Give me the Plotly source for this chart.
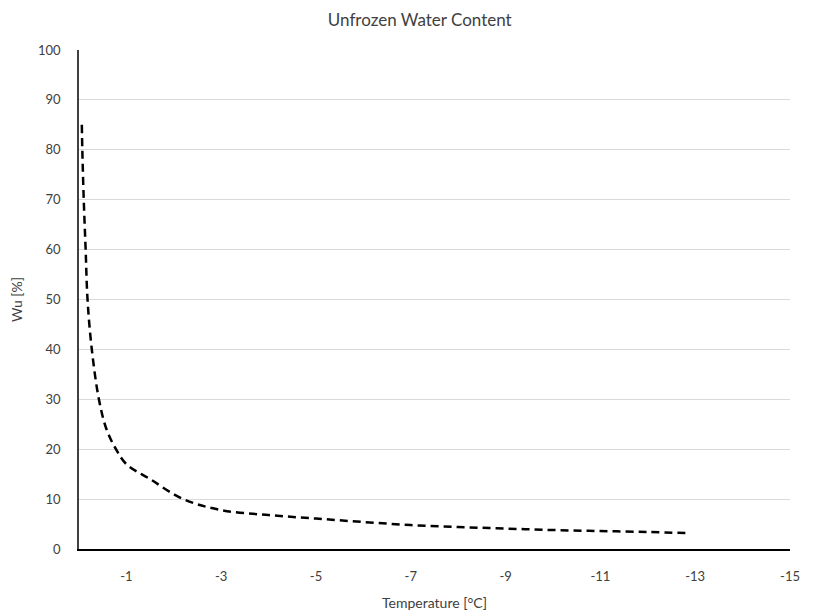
import plotly.graph_objects as go

temperature = [-0.06, -0.07, -0.1, -0.14, -0.18, -0.27, -0.42, -0.58, -0.78, -1.0,
               -1.5, -2.2, -3, -4, -5, -6, -7, -8, -9, -10, -11, -12, -12.85]
wu = [85, 80, 70, 60, 50, 40, 30, 24, 20, 17,
      14, 10, 7.8, 6.8, 6.1, 5.4, 4.8, 4.4, 4.1, 3.8, 3.6, 3.4, 3.2]

x_ticks = [-1, -3, -5, -7, -9, -11, -13, -15]
y_ticks = list(range(0, 101, 10))

font_family = "Lato, 'Open Sans', sans-serif"

fig = go.Figure()
fig.add_trace(go.Scatter(
    x=temperature, y=wu, mode="lines",
    line=dict(color="black", width=2.5, dash="8px,5px", shape="spline", smoothing=1.0),
    showlegend=False, hoverinfo="skip",
))

fig.update_layout(
    width=823, height=613,
    margin=dict(l=79, r=33, t=50, b=64, autoexpand=False),
    paper_bgcolor="white", plot_bgcolor="white",
    font=dict(family=font_family, size=13, color="#404040"),
    title=dict(text="Unfrozen Water Content", x=0.51, xref="container",
               y=0.967, yref="container", xanchor="center", yanchor="middle",
               font=dict(size=17, color="#404040", family=font_family)),
    xaxis=dict(
        range=[0, -15], tickvals=x_ticks, ticktext=[str(v) for v in x_ticks],
        showgrid=False, zeroline=False, showline=True, linecolor="black", linewidth=1.5,
        ticks="", ticklabelstandoff=15, tickfont=dict(size=13, color="#404040"),
        automargin=False,
        title=dict(text="Temperature [°C]", font=dict(size=14, color="#404040"), standoff=15),
    ),
    yaxis=dict(
        range=[0, 100], tickvals=y_ticks,
        showgrid=True, gridcolor="#d9d9d9", gridwidth=1,
        zeroline=False, showline=True, linecolor="#404040", linewidth=1.5,
        ticks="", ticklabelstandoff=14, tickfont=dict(size=13, color="#404040"),
        automargin=False,
        title=dict(text="Wu [%]", font=dict(size=14, color="#404040"), standoff=12),
    ),
)

fig.write_html("out.html")
